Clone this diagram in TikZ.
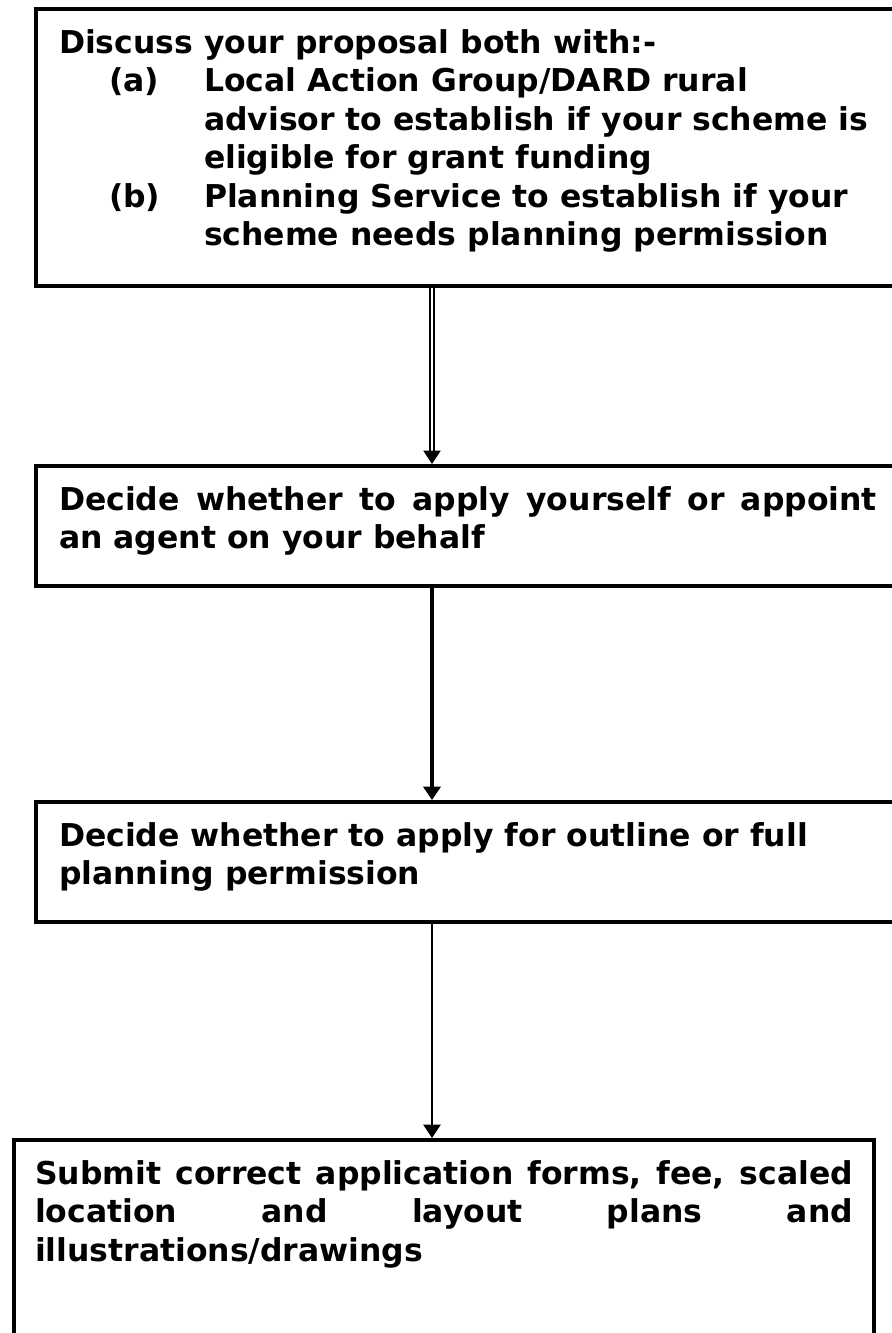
\documentclass[tikz,border=0pt]{standalone}
\usepackage{fontspec}
\setmainfont{DejaVu Sans}
\usetikzlibrary{arrows.meta}

\tikzset{
  stage/.style={draw, line width=1.5pt, anchor=north west, inner xsep=8.625pt, inner ysep=0pt},
  twin/.style={double, line width=0.7pt, double distance=0.6pt, -{Triangle[width=6.4pt,length=5pt]}},
  heavy/.style={line width=1.5pt, -{Triangle[width=6.4pt,length=5pt]}},
  slim/.style={line width=0.85pt, -{Triangle[width=6.4pt,length=5pt]}},
}
\newcommand{\stagetext}[2]{\parbox[c][#1][t]{306.75pt}{\fontsize{11.8pt}{14.44pt}\selectfont\bfseries\rule{0pt}{16.5pt}#2}}
\newcommand{\optrow}[2]{\hspace*{18.75pt}\makebox[35.65pt][l]{#1}#2}

\begin{document}
\begin{tikzpicture}[x=0.375pt, y=-0.375pt]
    \useasboundingbox (0,0) rectangle (892,1333); % 页面大小
    \clip (0,0) rectangle (892,1333);
    \node[stage] (consult) at (34,7) {\stagetext{103.9pt}{Discuss your proposal both with:-\\
        \optrow{(a)}{Local Action Group/DARD rural}\\
        \hspace*{54.4pt}advisor to establish if your scheme is\\
        \hspace*{54.4pt}eligible for grant funding\\
        \optrow{(b)}{Planning Service to establish if your}\\
        \hspace*{54.4pt}scheme needs planning permission}}; % 第一步
    \node[stage] (agent) at (34,464) {\stagetext{45pt}{Decide whether to apply yourself or appoint\linebreak an agent on your behalf}}; % 第二步
    \node[stage] (outline) at (34,800) {\stagetext{45pt}{Decide whether to apply for outline or full\\ planning permission}}; % 第三步
    \node[stage, inner xsep=7.9pt] (submit) at (12,1138) {\stagetext{77.6pt}{Submit correct application forms, fee, scaled\linebreak location and layout plans and\linebreak illustrations/drawings}}; % 第四步
    \coordinate (spine) at (432,0); % 箭头所在的竖线
    \draw[twin] (consult.south -| spine) -- (agent.north -| spine);
    \draw[heavy] (agent.south -| spine) -- (outline.north -| spine);
    \draw[slim] (outline.south -| spine) -- (submit.north -| spine);
\end{tikzpicture}
\end{document}
